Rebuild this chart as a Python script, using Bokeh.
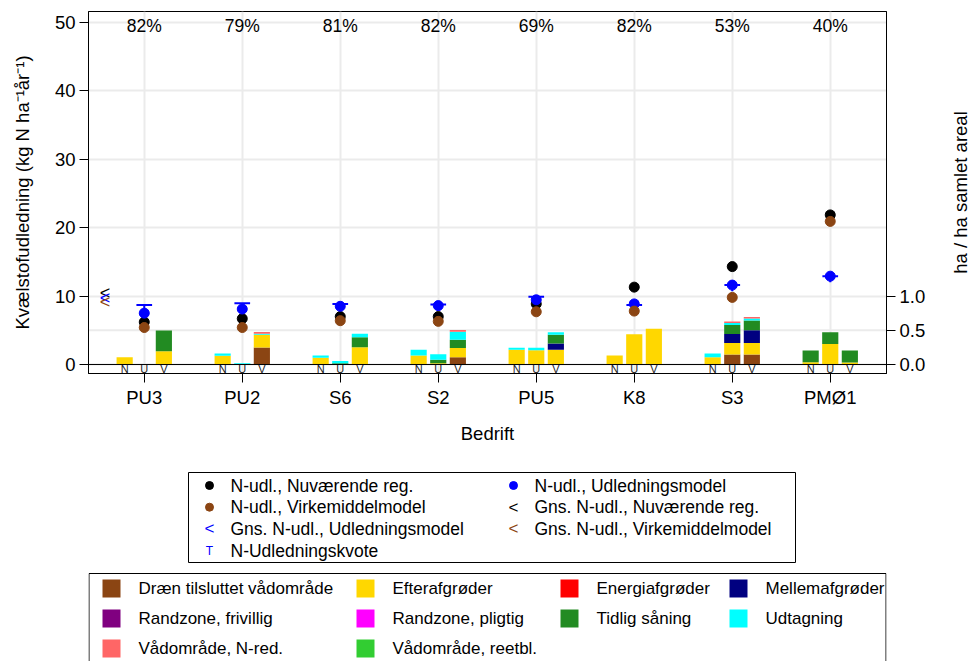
import numpy as np
from bokeh.plotting import figure
from bokeh.models import (Range1d, LinearAxis, FixedTicker, Span,
                          ColumnDataSource, NumeralTickFormatter)
from bokeh.layouts import column, row
from bokeh.core.properties import value
from bokeh.embed import file_html
from bokeh.resources import INLINE

# ---------------- data ----------------
groups = ["PU3", "PU2", "S6", "S2", "PU5", "K8", "S3", "PMØ1"]
scen = ["N", "U", "V"]
pct = ["82%", "79%", "81%", "82%", "69%", "82%", "53%", "40%"]

# N-udledning (kg N/ha/år), one value per farm
nuv = [6.2, 6.7, 7.0, 7.0, 8.85, 11.3, 14.3, 21.85]     # Nuværende reg.
udl = [7.5, 8.1, 8.5, 8.6, 9.45, 8.85, 11.6, 12.9]      # Udledningsmodel
virk = [5.4, 5.4, 6.4, 6.3, 7.7, 7.8, 9.8, 20.9]        # Virkemiddelmodel
kvote = [8.7, 8.95, 8.85, 8.75, 9.9, 8.7, 11.6, 12.9]   # N-Udledningskvote
avg_vals = [10.4, 9.75, 9.1]                            # Gns.: Nuv., Udl., Virk.

# area shares (ha / ha samlet areal), order: farm x (N, U, V)
draen  = [0, 0, 0,  0, 0, 0.25,  0, 0, 0,  0, 0, 0.105,  0, 0, 0,  0, 0, 0,  0, 0.145, 0.145,  0, 0, 0]
efter  = [0.107, 0, 0.195,  0.127, 0, 0.185,  0.097, 0, 0.253,  0.131, 0.02, 0.136,
          0.214, 0.209, 0.214,  0.131, 0.443, 0.521,  0.107, 0.17, 0.17,  0.034, 0.30, 0.03]
energi = [0, 0, 0,  0, 0, 0,  0, 0, 0,  0, 0, 0,  0, 0, 0,  0, 0, 0,  0, 0, 0,  0, 0, 0]
mellem = [0, 0, 0,  0, 0, 0,  0, 0, 0,  0, 0, 0,  0, 0, 0.092,  0, 0, 0,  0, 0.131, 0.185,  0, 0, 0]
rfri   = [0, 0, 0,  0, 0, 0,  0, 0, 0,  0, 0, 0,  0, 0, 0,  0, 0, 0,  0, 0, 0,  0, 0, 0]
rpli   = [0, 0, 0,  0, 0, 0,  0, 0, 0,  0, 0, 0,  0, 0, 0,  0, 0, 0,  0, 0, 0,  0, 0, 0]
tidlig = [0, 0, 0.30,  0, 0, 0,  0, 0.02, 0.146,  0, 0.05, 0.122,  0, 0, 0.127,  0, 0, 0,
          0, 0.131, 0.141,  0.17, 0.17, 0.175]
udtag  = [0, 0, 0,  0.034, 0.02, 0.015,  0.034, 0.03, 0.049,  0.083, 0.08, 0.117,
          0.03, 0.034, 0.039,  0, 0, 0,  0.054, 0.03, 0.03,  0, 0, 0]
vnred  = [0, 0, 0,  0, 0, 0.025,  0, 0, 0,  0, 0, 0.024,  0, 0, 0,  0, 0, 0,  0, 0.02, 0.024,  0, 0, 0]
vreet  = [0, 0, 0,  0, 0, 0,  0, 0, 0,  0, 0, 0,  0, 0, 0,  0, 0, 0,  0, 0, 0,  0, 0, 0]

cat_names = ["Dræn tilsluttet vådområde", "Efterafgrøder", "Energiafgrøder", "Mellemafgrøder",
             "Randzone, frivillig", "Randzone, pligtig", "Tidlig såning", "Udtagning",
             "Vådområde, N-red.", "Vådområde, reetbl."]
cat_values = [draen, efter, energi, mellem, rfri, rpli, tidlig, udtag, vnred, vreet]
cat_colors = ["#8B4513", "#FFD700", "#FF0000", "#000080", "#800080", "#FF00FF",
              "#228B22", "#00FFFF", "#FF6666", "#32CD32"]

pt_labels = ["N-udl., Nuværende reg.", "N-udl., Udledningsmodel", "N-udl., Virkemiddelmodel",
             "Gns. N-udl., Nuværende reg.", "Gns. N-udl., Udledningsmodel",
             "Gns. N-udl., Virkemiddelmodel", "N-Udledningskvote"]
pt_kinds = ["dot", "dot", "dot", "chev", "chev", "chev", "T"]
pt_colors = ["black", "blue", "#8B4513", "black", "blue", "#8B4513", "blue"]

left_title = "Kvælstofudledning (kg N ha⁻¹år⁻¹)"
right_title = "ha / ha samlet areal"
x_title = "Bedrift"

FONT = "Liberation Sans"

# ---------------- main figure ----------------
ng = len(groups)
gx = np.arange(1, ng + 1, dtype=float)
offs = np.array([-0.2, 0.0, 0.2])
bx = (gx[:, None] + offs[None, :]).ravel()
scen_txt = scen * ng

yr = Range1d(-1.315, 51.56)
p = figure(width=934, height=460, x_range=Range1d(0.431, 8.574),
           y_range=yr, output_backend="svg", toolbar_location=None,
           min_border_left=88, min_border_right=48, min_border_top=11, min_border_bottom=87)
p.extra_y_ranges = {"right": Range1d(-0.1315, 5.156)}
p.background_fill_color = "white"
p.outline_line_color = "black"
p.outline_line_width = 1

gridc = "#ebebeb"
p.xgrid.ticker = FixedTicker(ticks=list(gx))
p.ygrid.ticker = FixedTicker(ticks=[0, 10, 20, 30, 40, 50])
for g in (p.xgrid, p.ygrid):
    g.grid_line_color = gridc
    g.grid_line_width = 2
p.add_layout(Span(location=5, dimension="width", line_color=gridc, line_width=2, level="underlay"))

# stacked bars (right axis)
src = ColumnDataSource(dict(x=bx, **{f"c{i}": v for i, v in enumerate(cat_values)}))
p.vbar_stack([f"c{i}" for i in range(len(cat_values))], x="x", width=0.165, source=src,
             color=cat_colors, line_color=None, y_range_name="right")

p.add_layout(Span(location=0, dimension="width", line_color="black", line_width=1))

# N U V labels
p.text(x=bx, y=np.full(len(bx), -0.62), text=scen_txt, text_font=value(FONT),
       text_font_size="11px", text_align="center", text_baseline="middle", text_color="#222222")

# percentages
p.text(x=gx, y=np.full(ng, 49.5), text=pct, text_font=value(FONT), text_font_size="17.5px",
       text_align="center", text_baseline="middle", text_color="black")

# kvote T
kv = np.array(kvote)
p.segment(x0=gx - 0.08, y0=kv, x1=gx + 0.08, y1=kv, line_color="blue", line_width=2)
p.segment(x0=gx, y0=kv, x1=gx, y1=kv - 0.9, line_color="blue", line_width=2)

# points
p.scatter(x=gx, y=nuv, size=10, color="black")
p.scatter(x=gx, y=udl, size=10, color="blue")
p.scatter(x=gx, y=virk, size=10, color="#8B4513")

# averages (chevrons)
p.text(x=np.full(3, 0.6), y=avg_vals, text=["<", "<", "<"],
       text_color=["black", "blue", "#8B4513"], text_font=value(FONT), text_font_size="18px",
       text_align="center", text_baseline="middle")

# axes
for ax in p.yaxis:
    ax.ticker = FixedTicker(ticks=[0, 10, 20, 30, 40, 50])
    ax.axis_label = left_title
    ax.axis_label_standoff = 19
for ax in p.xaxis:
    ax.ticker = FixedTicker(ticks=list(gx))
    ax.major_label_overrides = {int(i + 1): g for i, g in enumerate(groups)}
    ax.axis_label = x_title
    ax.major_label_standoff = 4
    ax.axis_label_standoff = 12

ax_r = LinearAxis(y_range_name="right", ticker=FixedTicker(ticks=[0, 0.5, 1.0]),
                  formatter=NumeralTickFormatter(format="0.0"))
p.add_layout(ax_r, "right")

for ax in list(p.xaxis) + list(p.yaxis) + [ax_r]:
    ax.major_tick_out = 9
    ax.major_tick_in = 0
    ax.minor_tick_out = 0
    ax.minor_tick_in = 0
    ax.axis_line_color = "black"
    ax.major_tick_line_color = "black"
    ax.major_label_text_font = FONT
    ax.major_label_text_font_size = "18.5px"
    ax.major_label_text_color = "black"
    ax.axis_label_text_font = FONT
    ax.axis_label_text_font_size = "18.5px"
    ax.axis_label_text_font_style = "normal"
    ax.axis_label_text_color = "black"
for ax in p.yaxis:
    ax.major_label_standoff = 4
ax_r.major_label_standoff = 4

# ---------------- right-axis title strip (page x 934..970) ----------------
rf = figure(width=36, height=460, x_range=Range1d(934, 970), y_range=yr,
            output_backend="svg", toolbar_location=None,
            min_border_left=0, min_border_right=0, min_border_top=11, min_border_bottom=87,
            x_axis_type=None, y_axis_type=None)
rf.grid.visible = False
rf.outline_line_color = None
rf.background_fill_color = "white"
rf.text(x=[960], y=[(yr.start + yr.end) / 2], text=[right_title], angle=np.pi / 2,
        text_font=value(FONT), text_font_size="18.5px", text_align="center",
        text_baseline="middle", text_color="black")

# ---------------- legend figure ----------------
# frame spans page x 88..886 (1 data unit = 1 px)
lg = figure(width=970, height=201, x_range=Range1d(88, 886), y_range=Range1d(661, 460),
            output_backend="svg", toolbar_location=None,
            min_border_left=88, min_border_right=84, min_border_top=0, min_border_bottom=0,
            x_axis_type=None, y_axis_type=None)
lg.grid.visible = False
lg.outline_line_color = None
lg.background_fill_color = "white"

# legend 1 (points)
lg.quad(left=[188], right=[795], top=[472], bottom=[562], fill_color=None,
        line_color="black", line_width=1)
mx_cols = [209, 513]
n1 = len(pt_labels)
r1 = np.arange(n1) // 2
c1 = np.arange(n1) % 2
ly1 = 485 + 21.7 * r1
lx1 = np.array([mx_cols[c] for c in c1], dtype=float)
kinds = np.array(pt_kinds)
cols1 = np.array(pt_colors)
dm = kinds == "dot"
lg.scatter(x=lx1[dm], y=ly1[dm], size=8, color=list(cols1[dm]))
cm = kinds == "chev"
lg.text(x=lx1[cm], y=ly1[cm], text=["<"] * int(cm.sum()), text_color=list(cols1[cm]),
        text_font=value(FONT), text_font_size="17px", text_align="center", text_baseline="middle")
tm = kinds == "T"
lg.text(x=lx1[tm], y=ly1[tm], text=["T"] * int(tm.sum()), text_color=list(cols1[tm]),
        text_font=value(FONT), text_font_size="12px", text_align="center", text_baseline="middle")
lg.text(x=lx1 + 21, y=ly1, text=pt_labels, text_font=value(FONT), text_font_size="17.5px",
        text_align="left", text_baseline="middle", text_color="black")

# legend 2 (categories)
lg.quad(left=[88.5], right=[885.5], top=[573], bottom=[760], fill_color=None,
        line_color="black", line_width=1)
sw_cols = [102, 356, 560, 729]
n2 = len(cat_names)
r2 = np.arange(n2) // 4
c2 = np.arange(n2) % 4
ly2 = 588 + 30 * r2
sx = np.array([sw_cols[c] for c in c2], dtype=float)
lg.rect(x=sx + 9, y=ly2, width=18, height=18, fill_color=cat_colors, line_color=None)
lg.text(x=sx + 36, y=ly2, text=cat_names, text_font=value(FONT), text_font_size="17px",
        text_align="left", text_baseline="middle", text_color="black")

layout = column(row(p, rf), lg)
open("out.html", "w").write(file_html(layout, INLINE))
